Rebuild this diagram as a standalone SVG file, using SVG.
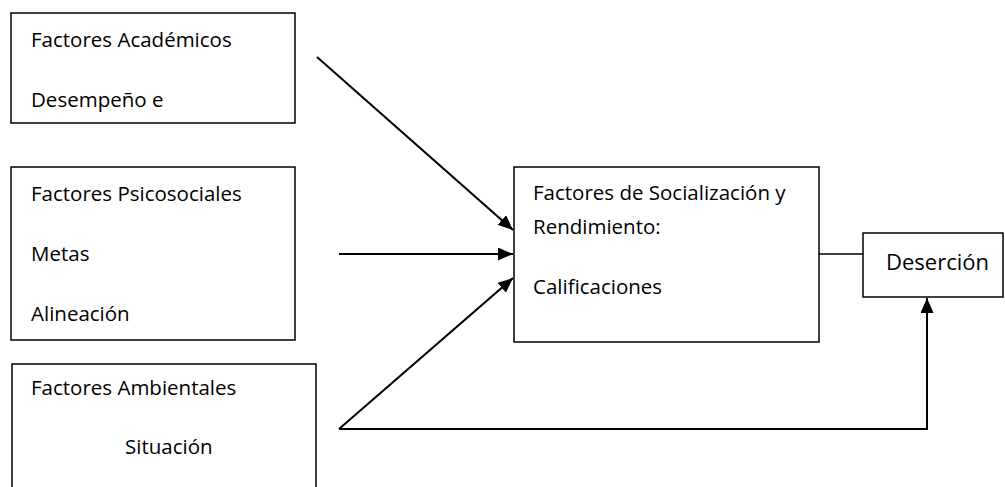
<svg xmlns="http://www.w3.org/2000/svg" width="1005" height="487" viewBox="0 0 1005 487">
<style>
.box{fill:#fff;stroke:#000;stroke-width:1.5}
.t{font-family:"Open Sans","Liberation Sans",sans-serif;font-size:20.5px;fill:#000}
.big{font-size:22px}
.ln{fill:none;stroke:#000;stroke-width:2}
.thin{fill:none;stroke:#000;stroke-width:1.5}
</style>
<defs>
<marker id="ah" markerUnits="userSpaceOnUse" markerWidth="15" markerHeight="13" refX="15" refY="6.5" orient="auto">
<path d="M0,0 L15,6.5 L0,13 z" fill="#000"/>
</marker>
</defs>
<rect width="1005" height="487" fill="#fff"/>
<g id="academicos">
<rect class="box" x="11" y="13" width="284" height="110"/>
<text class="t" x="31" y="46.5">Factores Académicos</text>
<text class="t" x="31" y="106.5">Desempeño e</text>
</g>
<g id="psicosociales">
<rect class="box" x="11" y="167" width="284" height="173"/>
<text class="t" x="31" y="201">Factores Psicosociales</text>
<text class="t" x="31" y="261">Metas</text>
<text class="t" x="31" y="321">Alineación</text>
</g>
<g id="ambientales">
<rect class="box" x="12" y="364" width="304" height="140"/>
<text class="t" x="31" y="395">Factores Ambientales</text>
<text class="t" x="125" y="454">Situación</text>
</g>
<g id="socializacion">
<rect class="box" x="514" y="167" width="305" height="175"/>
<text class="t" x="533" y="200">Factores de Socialización y</text>
<text class="t" x="533" y="234">Rendimiento:</text>
<text class="t" x="533" y="294">Calificaciones</text>
</g>
<g id="desercion">
<rect class="box" x="863" y="233" width="140" height="64"/>
<text class="t big" x="886" y="270">Deserción</text>
</g>
<g id="connectors">
<line class="ln" x1="317" y1="57" x2="513" y2="230" marker-end="url(#ah)"/>
<line class="ln" x1="339" y1="254" x2="513" y2="254" marker-end="url(#ah)"/>
<line class="ln" x1="339" y1="429" x2="513" y2="278" marker-end="url(#ah)"/>
<line class="thin" x1="819" y1="254" x2="863" y2="254"/>
<polyline class="ln" points="339,429 927,429 927,298" marker-end="url(#ah)"/>
</g>
</svg>
